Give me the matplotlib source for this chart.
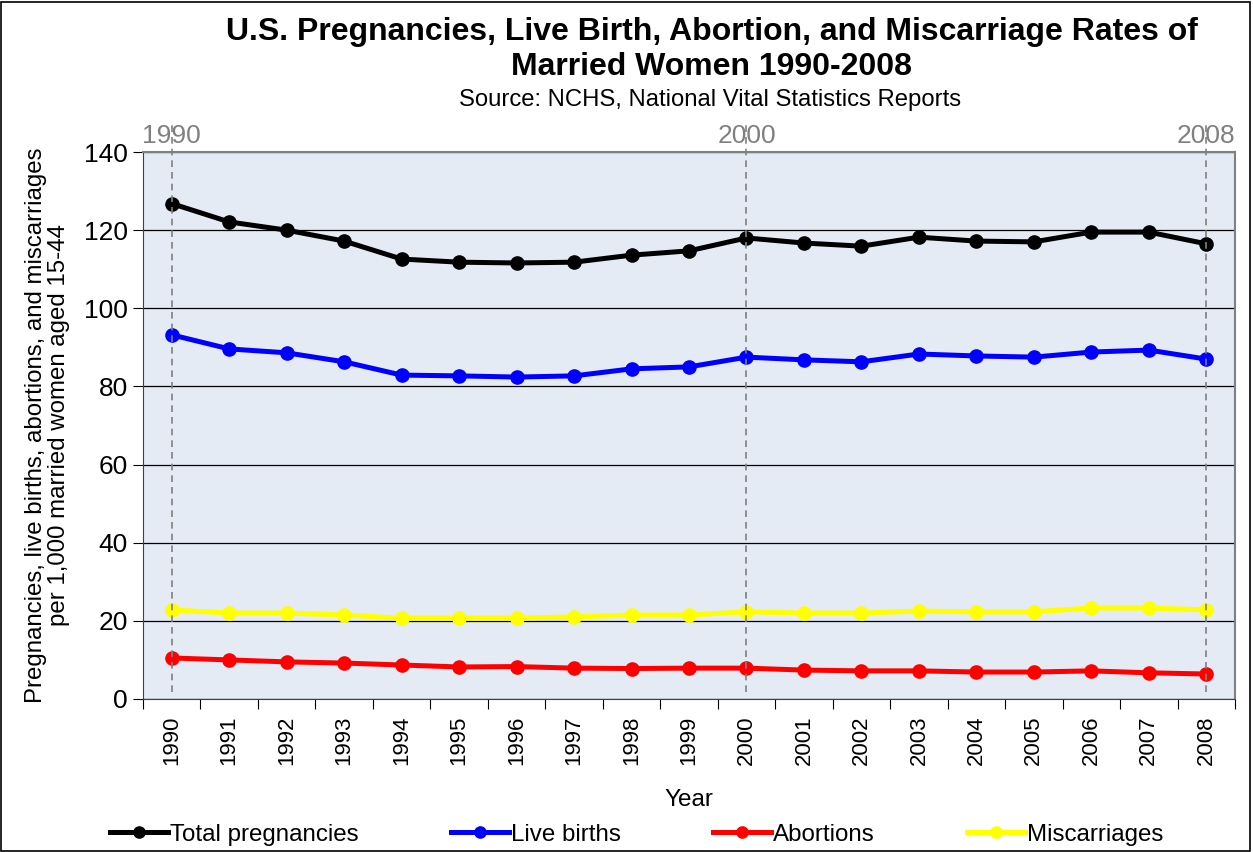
import numpy as np
import matplotlib.pyplot as plt
from matplotlib.patches import Rectangle
import matplotlib.transforms as mtransforms

years = list(range(1990, 2009))
total_pregnancies = [126.8, 122.1, 120.0, 117.2, 112.6, 111.8, 111.6, 111.8, 113.6, 114.7,
                     118.0, 116.7, 115.9, 118.2, 117.2, 117.0, 119.5, 119.5, 116.5]
live_births = [93.2, 89.6, 88.6, 86.3, 82.9, 82.7, 82.4, 82.7, 84.5, 85.0,
               87.5, 86.8, 86.3, 88.3, 87.8, 87.5, 88.8, 89.3, 87.0]
abortions = [10.5, 10.0, 9.5, 9.2, 8.7, 8.2, 8.3, 7.9, 7.8, 7.9,
             7.9, 7.4, 7.2, 7.2, 6.9, 6.9, 7.2, 6.7, 6.4]
miscarriages = [22.8, 22.0, 22.0, 21.5, 20.7, 20.7, 20.7, 21.0, 21.5, 21.5,
                22.3, 22.0, 22.0, 22.5, 22.3, 22.3, 23.3, 23.3, 22.8]
marked_years = [1990, 2000, 2008]

plt.rcParams['font.family'] = ['Liberation Sans', 'DejaVu Sans']

fig = plt.figure(figsize=(12.53, 8.52), dpi=100)
ax = fig.add_axes([143 / 1253, 1 - 699 / 852, (1235 - 143) / 1253, (699 - 152) / 852])
ax.set_facecolor('#E4EBF5')

x = np.arange(len(years))
series = [
    ('Total pregnancies', total_pregnancies, 'black'),
    ('Live births', live_births, '#0000FF'),
    ('Abortions', abortions, '#FF0000'),
    ('Miscarriages', miscarriages, '#FFFF00'),
]
for label, vals, col in series:
    ax.plot(x, vals, color=col, lw=3.6, marker='o', ms=9.5, label=label, zorder=3)

ax.set_ylim(0, 140)
ax.set_xlim(-0.5, len(years) - 0.5)
ax.set_yticks(range(0, 141, 20))
ax.yaxis.grid(True, color='black', lw=0.9)
ax.set_axisbelow(True)
ax.tick_params(axis='y', labelsize=19, length=7, direction='out', pad=4)

# Excel-style category axis: ticks between, labels centred
ax.set_xticks(np.arange(-0.5, len(years), 1))
ax.set_xticklabels([])
ax.set_xticks(x, minor=True)
ax.set_xticklabels([str(y) for y in years], minor=True, rotation=90, fontsize=16)
ax.tick_params(axis='x', which='major', length=7, direction='out')
ax.tick_params(axis='x', which='minor', length=0, pad=12)

for side in ['top', 'right']:
    ax.spines[side].set_color('#808080')
    ax.spines[side].set_linewidth(1.5)
for side in ['left', 'bottom']:
    ax.spines[side].set_color('#404040')

# marker lines for selected years
trans = mtransforms.blended_transform_factory(ax.transData, ax.transAxes)
for yr in marked_years:
    i = years.index(yr)
    ax.plot([i, i], [0.012, 1.05], transform=trans, color='#808080', lw=1.2,
            ls=(0, (4, 3)), clip_on=False, zorder=4)
    ax.text(i, 1.008, str(yr), transform=trans, ha='center', va='bottom',
            fontsize=19, color='#808080')

ax.set_ylabel('Pregnancies, live births, abortions, and miscarriages\nper 1,000 married women aged 15-44',
              fontsize=17.3, linespacing=1.05, labelpad=10)
ax.set_xlabel('Year', fontsize=17.5, labelpad=17)

fig.text(0.568, 0.980, 'U.S. Pregnancies, Live Birth, Abortion, and Miscarriage Rates of\nMarried Women 1990-2008',
         ha='center', va='top', fontsize=23, fontweight='bold', linespacing=1.2)
fig.text(0.567, 0.895, 'Source: NCHS, National Vital Statistics Reports',
         ha='center', va='top', fontsize=17.2)

fig.legend(loc='lower center', bbox_to_anchor=(0.508, -0.018), ncol=4, frameon=False,
           fontsize=17.4, handlelength=2.4, handletextpad=0.1, columnspacing=3.8,
           markerscale=0.85)

fig.patches.append(Rectangle((0.001, 0.001), 0.997, 0.997, transform=fig.transFigure,
                             fill=False, ec='black', lw=1.2))

fig.savefig('out.png', dpi=100)
